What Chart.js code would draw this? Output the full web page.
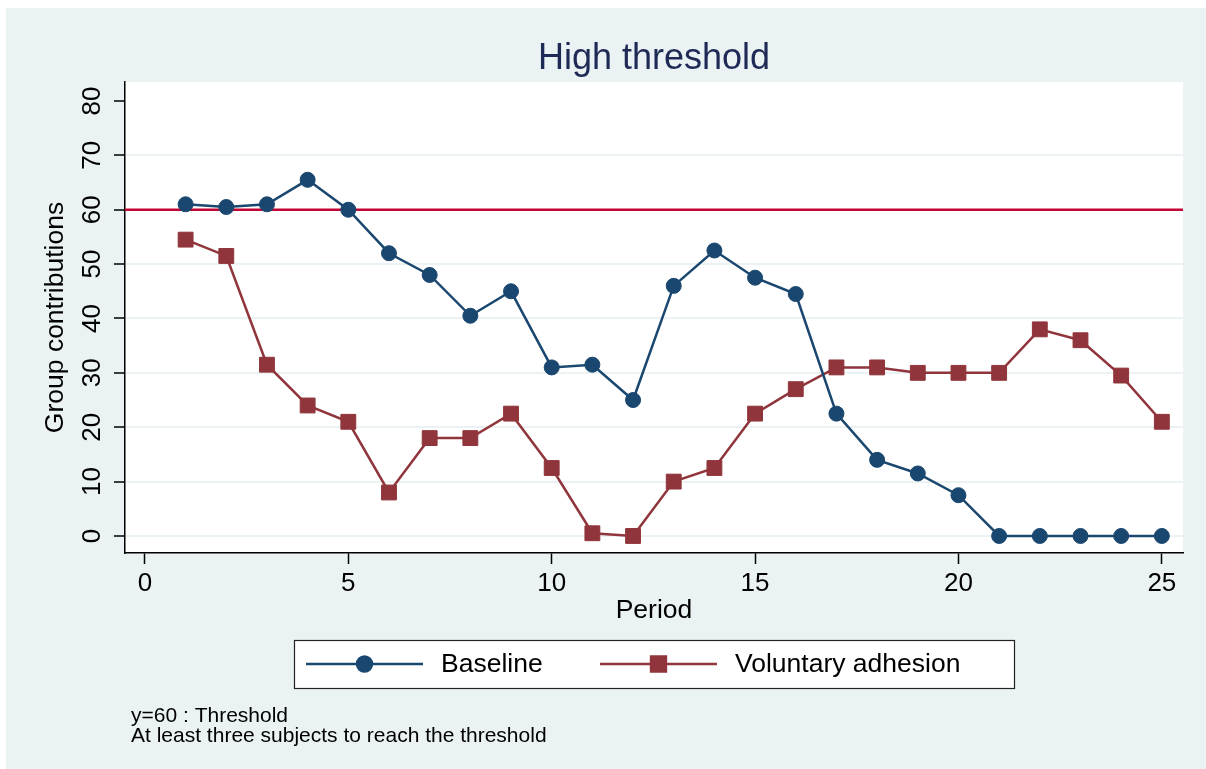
<!DOCTYPE html>
<html>
<head>
<meta charset="utf-8">
<title>High threshold</title>
<script src="https://cdn.jsdelivr.net/npm/chart.js@4.4.1/dist/chart.umd.min.js"></script>
<style>
  html, body { margin: 0; padding: 0; background: #ffffff; }
  #wrap {
    position: absolute;
    left: 6px;
    top: 8px;
    width: 1200px;
    height: 761px;
    background: #eaf2f3;
  }
</style>
</head>
<body>
<div id="wrap"><canvas id="chart"></canvas></div>
<script>
// Data
const periods = [1, 2, 3, 4, 5, 6, 7, 8, 9, 10, 11, 12, 13, 14, 15, 16, 17, 18, 19, 20, 21, 22, 23, 24, 25];
const baselineValues = [61, 60.5, 61, 65.5, 60, 52, 48, 40.5, 45, 31, 31.5, 25, 46, 52.5, 47.5, 44.5, 22.5, 14, 11.5, 7.5, 0, 0, 0, 0, 0];
const voluntaryValues = [54.5, 51.5, 31.5, 24, 21, 8, 18, 18, 22.5, 12.5, 0.5, 0, 10, 12.5, 22.5, 27, 31, 31, 30, 30, 30, 38, 36, 29.5, 21];
const xTicks = [0, 5, 10, 15, 20, 25];
const yTicks = [0, 10, 20, 30, 40, 50, 60, 70, 80];
const THRESHOLD = 60;
const notes = ["y=60 : Threshold", "At least three subjects to reach the threshold"];

// Colours
const NAVY = "#1a476f";
const MAROON = "#90353b";
const THRESHOLD_RED = "#c10534";
const GRID = "#eaf2f3";

const FONT = "'Liberation Sans', Arial, Helvetica, sans-serif";
Chart.defaults.font.family = FONT;
Chart.defaults.color = "#000000";

const toPoints = (values) => periods.map((p, i) => ({ x: p, y: values[i] }));

// White plot region, threshold line, boxed legend and notes
const stataExtras = {
  id: "stataExtras",
  beforeDraw(chart) {
    const { ctx, chartArea: a } = chart;
    ctx.save();
    ctx.fillStyle = "#ffffff";
    ctx.fillRect(a.left, a.top, a.right - a.left, a.bottom - a.top);
    ctx.restore();
  },
  beforeDatasetsDraw(chart) {
    const { ctx, chartArea: a, scales } = chart;
    const y = scales.y.getPixelForValue(THRESHOLD);
    ctx.save();
    ctx.strokeStyle = THRESHOLD_RED;
    ctx.lineWidth = 2.5;
    ctx.beginPath();
    ctx.moveTo(a.left, y);
    ctx.lineTo(a.right, y);
    ctx.stroke();
    ctx.restore();
  },
  afterDraw(chart) {
    const { ctx, chartArea: a } = chart;
    const boxW = 720;
    const boxH = 48;
    const boxLeft = Math.round((a.left + a.right) / 2 - boxW / 2);
    const boxTop = 632;
    const midY = boxTop + 24;

    ctx.save();
    ctx.fillStyle = "#ffffff";
    ctx.fillRect(boxLeft, boxTop, boxW, boxH);
    ctx.strokeStyle = "#222222";
    ctx.lineWidth = 1.2;
    ctx.strokeRect(boxLeft + 0.5, boxTop + 0.5, boxW, boxH);

    chart.data.datasets.forEach((ds, i) => {
      const x0 = boxLeft + 12 + i * 294;
      ctx.strokeStyle = ds.borderColor;
      ctx.lineWidth = ds.borderWidth;
      ctx.beginPath();
      ctx.moveTo(x0, midY);
      ctx.lineTo(x0 + 117, midY);
      ctx.stroke();

      ctx.fillStyle = ds.pointBackgroundColor;
      ctx.strokeStyle = ds.pointBorderColor;
      Chart.helpers.drawPoint(ctx, {
        pointStyle: ds.pointStyle,
        radius: ds.pointRadius,
        borderWidth: ds.pointBorderWidth,
        rotation: 0,
      }, x0 + 58.5, midY);

      ctx.fillStyle = "#000000";
      ctx.font = "26.5px " + FONT;
      ctx.textAlign = "left";
      ctx.textBaseline = "middle";
      ctx.fillText(ds.label, x0 + 135, midY + 1);
    });

    // Notes under the legend
    ctx.fillStyle = "#000000";
    ctx.font = "21px " + FONT;
    ctx.textBaseline = "alphabetic";
    notes.forEach((line, i) => {
      ctx.fillText(line, 125, 713.5 + i * 20);
    });
    ctx.restore();
  },
};

const chart = new Chart(document.getElementById("chart"), {
  type: "line",
  data: {
    datasets: [
      {
        label: "Baseline",
        data: toPoints(baselineValues),
        borderColor: NAVY,
        borderWidth: 2.5,
        pointStyle: "circle",
        pointRadius: 7.5,
        pointBackgroundColor: NAVY,
        pointBorderColor: NAVY,
        pointBorderWidth: 1,
        tension: 0,
      },
      {
        label: "Voluntary adhesion",
        data: toPoints(voluntaryValues),
        borderColor: MAROON,
        borderWidth: 2.5,
        pointStyle: "rect",
        pointRadius: 10.5,
        pointBackgroundColor: MAROON,
        pointBorderColor: MAROON,
        pointBorderWidth: 1,
        tension: 0,
      },
    ],
  },
  options: {
    responsive: true,
    maintainAspectRatio: false,
    animation: false,
    events: [],
    layout: {
      padding: { left: 0, right: 23, top: 0, bottom: 145 },
    },
    plugins: {
      legend: { display: false },
      tooltip: { enabled: false },
      title: {
        display: true,
        text: "High threshold",
        color: "#1e2a55",
        fullSize: false,
        font: { size: 36, weight: "normal", lineHeight: 1 },
        padding: { top: 33, bottom: 5 },
      },
    },
    scales: {
      x: {
        type: "linear",
        min: -0.49,
        max: 25.52,
        afterBuildTicks: (s) => {
          s.ticks = xTicks.map((v) => ({ value: v }));
        },
        afterFit: (s) => {
          s.height = 71;
        },
        border: { color: "#000000", width: 1.5 },
        grid: {
          drawOnChartArea: false,
          drawTicks: true,
          tickLength: 11,
          tickWidth: 1.5,
          tickColor: "#000000",
        },
        ticks: {
          padding: 7,
          color: "#000000",
          font: { size: 26, lineHeight: 1 },
          maxRotation: 0,
          callback: (v) => String(v),
        },
        title: {
          display: true,
          text: "Period",
          color: "#000000",
          font: { size: 26.5, lineHeight: 1 },
          padding: { top: 1, bottom: 0 },
        },
      },
      y: {
        type: "linear",
        min: -3.13,
        max: 83.49,
        afterBuildTicks: (s) => {
          s.ticks = yTicks.map((v) => ({ value: v }));
        },
        afterFit: (s) => {
          s.width = 119;
        },
        border: { color: "#000000", width: 1.5 },
        grid: {
          color: (c) => (c.tick && c.tick.value === 80 ? "rgba(0,0,0,0)" : GRID),
          lineWidth: 2,
          drawTicks: true,
          tickLength: 11,
          tickWidth: 1.5,
          tickColor: "#000000",
        },
        ticks: {
          padding: 7,
          color: "#000000",
          font: { size: 26, lineHeight: 1 },
          minRotation: 90,
          maxRotation: 90,
          crossAlign: "center",
          callback: (v) => String(v),
        },
        title: {
          display: true,
          text: "Group contributions",
          color: "#000000",
          font: { size: 26.5, lineHeight: 1 },
          padding: { top: 36, bottom: 0 },
        },
      },
    },
  },
  plugins: [stataExtras],
});
</script>
</body>
</html>
